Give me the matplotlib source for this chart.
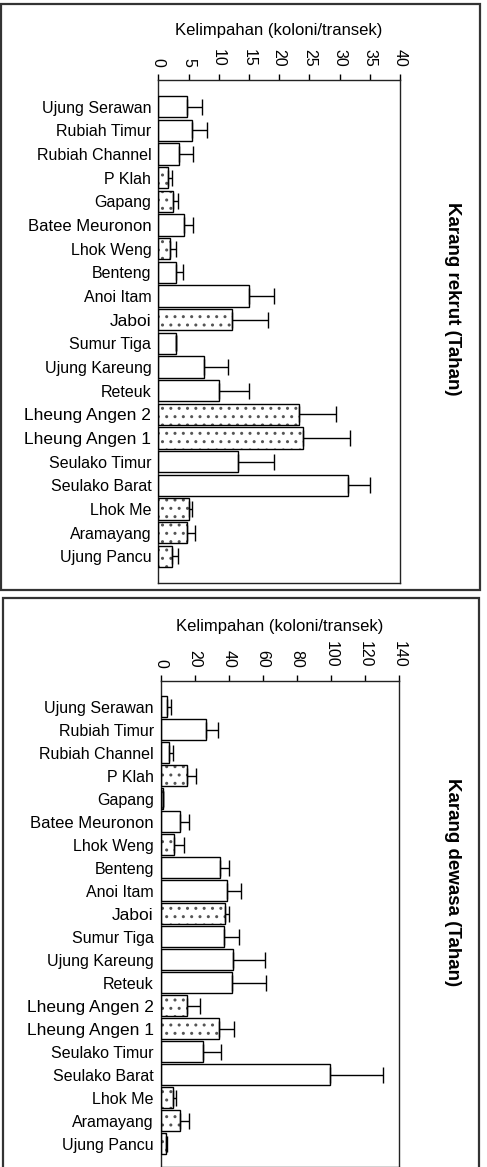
import matplotlib
matplotlib.use("Agg")
import matplotlib.pyplot as plt
from matplotlib.patches import Rectangle
import numpy as np

plt.rcParams['font.family'] = ['Liberation Sans', 'DejaVu Sans']
plt.rcParams['hatch.linewidth'] = 1.0

sites = ["Ujung Serawan", "Rubiah Timur", "Rubiah Channel", "P Klah", "Gapang",
         "Batee Meuronon", "Lhok Weng", "Benteng", "Anoi Itam", "Jaboi",
         "Sumur Tiga", "Ujung Kareung", "Reteuk", "Lheung Angen 2",
         "Lheung Angen 1", "Seulako Timur", "Seulako Barat", "Lhok Me",
         "Aramayang", "Ujung Pancu"]

# sites shown with dotted bars
dotted = [False, False, False, True, True, False, True, False, False, True,
          False, False, False, True, True, False, False, True, True, True]

recruit_mean = [4.7, 5.5, 3.5, 1.55, 2.5, 4.3, 1.9, 2.9, 15.0, 12.2,
                2.9, 7.5, 10.1, 23.3, 23.9, 13.2, 31.4, 5.0, 4.8, 2.2]
recruit_err = [2.6, 2.6, 2.3, 0.8, 0.8, 1.4, 1.0, 1.2, 4.1, 5.9,
               0.0, 4.0, 4.9, 6.1, 7.9, 5.9, 3.6, 0.5, 1.3, 1.0]

adult_mean = [3.7, 26.8, 4.7, 15.6, 1.2, 11.5, 8.0, 35.0, 39.1, 37.7,
              37.0, 42.6, 41.8, 15.6, 34.2, 24.6, 99.5, 7.4, 11.5, 3.3]
adult_err = [2.2, 7.0, 2.7, 5.3, 0.4, 5.1, 5.7, 5.1, 7.8, 2.6,
             9.0, 18.6, 20.0, 7.6, 9.0, 10.8, 31.1, 1.6, 5.1, 0.6]

recruit_ticks = [0, 5, 10, 15, 20, 25, 30, 35, 40]
adult_ticks = [0, 20, 40, 60, 80, 100, 120, 140]

# a few site names are set in a larger type
large_labels = {"Jaboi": 12.5, "Lheung Angen 2": 12.5, "Lheung Angen 1": 12.5,
                "Batee Meuronon": 12}

W, H = 487, 1167
fig = plt.figure(figsize=(W / 100, H / 100), dpi=100)


def px_axes(x0, x1, y0, y1):
    return fig.add_axes([x0 / W, 1 - y1 / H, (x1 - x0) / W, (y1 - y0) / H])


def panel(ax, means, errs, ticks, xmax, title, title_y, label_y, ylim):
    y = np.arange(len(sites))
    means = np.asarray(means)
    errs = np.asarray(errs)
    dots = np.asarray(dotted)
    # dotted fill layer
    ax.barh(y[dots], means[dots], height=0.9, color='white',
            edgecolor='#555555', linewidth=0, hatch='..', zorder=2)
    # outlines
    ax.barh(y, means, height=0.9, color='none', edgecolor='black',
            linewidth=1.0, zorder=3)
    ax.errorbar(means, y, xerr=[np.zeros_like(errs), errs], fmt='none',
                ecolor='black', elinewidth=1.0, capsize=5.5, capthick=1.0,
                zorder=4)
    ax.set_xlim(0, xmax)
    ax.set_ylim(*ylim)
    ax.set_yticks(y)
    ax.set_yticklabels(sites, fontsize=11.5)
    for lab in ax.get_yticklabels():
        if lab.get_text() in large_labels:
            lab.set_fontsize(large_labels[lab.get_text()])
    ax.tick_params(axis='y', length=0, pad=5)
    ax.xaxis.tick_top()
    ax.set_xticks(ticks)
    ax.set_xticklabels([str(t) for t in ticks])
    ax.tick_params(axis='x', direction='out', length=4, width=1,
                   labelsize=11.5, labelrotation=-90, pad=5.5)
    for s in ax.spines.values():
        s.set_linewidth(1.0)
        s.set_color('#222222')
    pos = ax.get_position()
    cx = pos.x0 + pos.width / 2
    fig.text(cx, 1 - label_y / H, "Kelimpahan (koloni/transek)",
             ha='center', va='center', fontsize=12)
    fig.text(452 / W, 1 - title_y / H, title, rotation=-90, ha='center',
             va='center', fontsize=13.5, fontweight='bold')


ax1 = px_axes(158.3, 400, 80, 582.7)
panel(ax1, recruit_mean, recruit_err, recruit_ticks, 40,
      "Karang rekrut (Tahan)", 299, 31, (19 + 1.12, -1.13))

ax2 = px_axes(160.7, 399.3, 681, 1167)
panel(ax2, adult_mean, adult_err, adult_ticks, 140,
      "Karang dewasa (Tahan)", 882, 627, (19 + 1.01, -1.12))

# panel frames
fig.patches.append(Rectangle((1 / W, 1 - 590 / H), 479 / W, 586 / H,
                             transform=fig.transFigure, fill=False,
                             edgecolor='#333333', linewidth=1.6))
fig.patches.append(Rectangle((3 / W, 1 - 1170 / H), 476 / W, 572 / H,
                             transform=fig.transFigure, fill=False,
                             edgecolor='#333333', linewidth=1.6,
                             clip_on=False))

fig.savefig("out.png", dpi=100)
